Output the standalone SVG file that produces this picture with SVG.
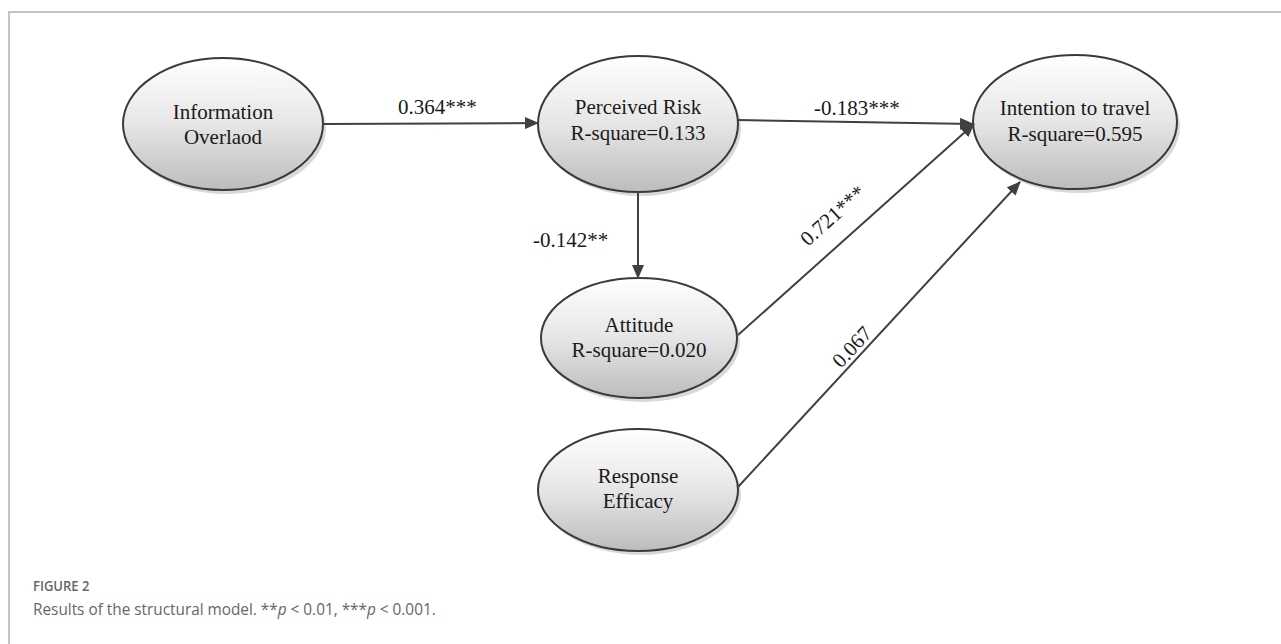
<svg xmlns="http://www.w3.org/2000/svg" width="1281" height="644" viewBox="0 0 1281 644">
<defs>
<linearGradient id="g" x1="0" y1="0" x2="0" y2="1">
<stop offset="0" stop-color="#ffffff"/>
<stop offset="0.5" stop-color="#e6e6e6"/>
<stop offset="1" stop-color="#bcbcbc"/>
</linearGradient>
<marker id="ah" viewBox="0 0 14 12" refX="13" refY="6" markerWidth="14" markerHeight="12" markerUnits="userSpaceOnUse" orient="auto">
<path d="M0,0 L14,6 L0,12 Z" fill="#404040"/>
</marker>
<style>
.sh{fill:#d9d9d9;stroke:none}
.el{fill:url(#g);stroke:#3a3a3a;stroke-width:2}
.t{font-family:"Liberation Serif","Times New Roman",serif;font-size:21px;fill:#1a1a1a;text-anchor:middle}
.lb{font-family:"Liberation Serif","Times New Roman",serif;font-size:21px;fill:#1a1a1a}
.ln{stroke:#404040;stroke-width:2;fill:none;marker-end:url(#ah)}
.cap{font-family:"Open Sans","Noto Sans",sans-serif;fill:#666}
</style>
</defs>
<rect width="1281" height="644" fill="#ffffff"/>
<path d="M9,644 V12 H1281" fill="none" stroke="#b0b0b0" stroke-width="1.5"/>

<g id="node-info">
<ellipse class="sh" cx="226" cy="128" rx="100" ry="66"/>
<ellipse class="el" cx="223" cy="124" rx="100" ry="66"/>
<text class="t" x="223" y="119">Information</text>
<text class="t" x="223" y="144">Overlaod</text>
</g>
<g id="node-risk">
<ellipse class="sh" cx="641" cy="128" rx="100" ry="68"/>
<ellipse class="el" cx="638" cy="124" rx="100" ry="68"/>
<text class="t" x="638" y="114">Perceived Risk</text>
<text class="t" x="638" y="140">R-square=0.133</text>
</g>
<g id="node-intention">
<ellipse class="sh" cx="1078" cy="126" rx="102" ry="67"/>
<ellipse class="el" cx="1075" cy="122" rx="102" ry="67"/>
<text class="t" x="1075" y="115">Intention to travel</text>
<text class="t" x="1075" y="141">R-square=0.595</text>
</g>
<g id="node-attitude">
<ellipse class="sh" cx="642" cy="342" rx="98" ry="60"/>
<ellipse class="el" cx="639" cy="338" rx="98" ry="60"/>
<text class="t" x="639" y="332">Attitude</text>
<text class="t" x="639" y="357">R-square=0.020</text>
</g>
<g id="node-response">
<ellipse class="sh" cx="641" cy="494" rx="100" ry="61"/>
<ellipse class="el" cx="638" cy="490" rx="100" ry="61"/>
<text class="t" x="638" y="483">Response</text>
<text class="t" x="638" y="508">Efficacy</text>
</g>

<g id="connectors">
<line class="ln" x1="323" y1="124" x2="538" y2="123"/>
<line class="ln" x1="738" y1="120" x2="973" y2="124"/>
<line class="ln" x1="638" y1="192" x2="638" y2="278"/>
<line class="ln" x1="738" y1="335" x2="974" y2="124"/>
<line class="ln" x1="738" y1="487" x2="1020" y2="182"/>
<text class="lb" x="398" y="114">0.364***</text>
<text class="lb" x="814" y="115">-0.183***</text>
<text class="lb" x="533" y="247">-0.142**</text>
<text class="lb" transform="translate(808,247) rotate(-41.8)">0.721***</text>
<text class="lb" transform="translate(841,369) rotate(-47.2)">0.067</text>
</g>

<text class="cap" transform="translate(33,591) scale(0.93,1)" font-size="14" font-weight="600" fill="#555">FIGURE 2</text>
<text class="cap" transform="translate(33,615) scale(0.93,1)" font-size="16.5">Results of the structural model. **<tspan font-style="italic">p</tspan> &lt; 0.01, ***<tspan font-style="italic">p</tspan> &lt; 0.001.</text>
</svg>
